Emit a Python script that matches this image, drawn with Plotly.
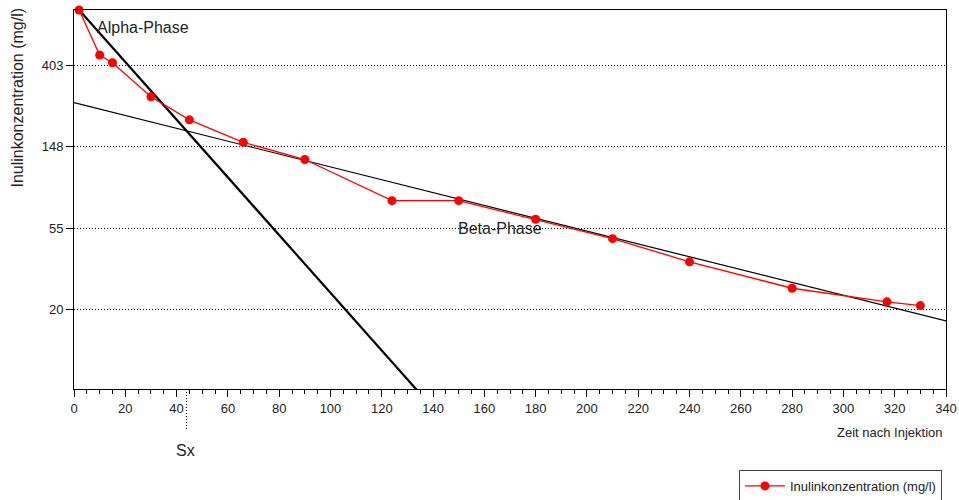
import numpy as np
import plotly.graph_objects as go

# Data (minutes after injection, inulin concentration mg/l)
zeit = [2, 10, 15, 30, 45, 66, 90, 124, 150, 180, 210, 240, 280, 317, 330]
konz = [801, 460, 418, 275, 207, 157, 127, 76.5, 76.5, 60.8, 47.9, 36.0, 26.0, 22.0, 21.0]

# Fitted phases (ln-linear): C(t) = A * exp(-k t)
alpha_lnA, alpha_k = 6.757, 0.03555
beta_lnA, beta_k = 5.544, 0.007909
alpha_t = [2, 160]
beta_t = [0, 340]

ytick_vals = [np.e**3, np.e**4, np.e**5, np.e**6]
ytick_text = ["20", "55", "148", "403"]

sx = (alpha_lnA - beta_lnA) / (alpha_k - beta_k)
sx_y = np.exp(beta_lnA - beta_k * sx)

FONT = "Liberation Sans, Arial, sans-serif"
ymin_log = np.log10(np.e**2.017)

fig = go.Figure()
at = np.array(alpha_t, dtype=float)
fig.add_trace(go.Scatter(x=at, y=np.exp(alpha_lnA - alpha_k * at), mode="lines",
                         line=dict(color="black", width=2.2), showlegend=False, hoverinfo="skip"))
bt = np.array(beta_t, dtype=float)
fig.add_trace(go.Scatter(x=bt, y=np.exp(beta_lnA - beta_k * bt), mode="lines",
                         line=dict(color="black", width=1.2), showlegend=False, hoverinfo="skip"))
fig.add_trace(go.Scatter(x=zeit, y=konz, mode="lines+markers", name="Inulinkonzentration (mg/l)",
                         line=dict(color="#ff0000", width=1.3),
                         marker=dict(color="#ff0000", size=9), cliponaxis=False))

# dotted Sx line
fig.add_shape(type="line", xref="x", yref="y", x0=sx, x1=sx,
              y0=np.log10(sx_y), y1=ymin_log,
              line=dict(color="black", width=1, dash="1px,2px"))
fig.add_shape(type="line", xref="x", yref="paper", x0=sx, x1=sx, y0=0, y1=-0.108,
              line=dict(color="black", width=1, dash="1px,2px"))

fig.add_annotation(text="Alpha-Phase", x=8.0, y=0.955, xref="x", yref="paper",
                   xanchor="left", yanchor="middle", showarrow=False,
                   font=dict(family=FONT, size=16, color="#222"))
fig.add_annotation(text="Beta-Phase", x=166, y=np.log10(np.e**4), xref="x", yref="y",
                   xanchor="center", yanchor="middle", showarrow=False,
                   font=dict(family=FONT, size=16, color="#222"))
fig.add_annotation(text="Sx", x=0.1284, y=-0.161, xref="paper", yref="paper",
                   xanchor="center", yanchor="middle", showarrow=False,
                   font=dict(family=FONT, size=16, color="#222"))
fig.add_annotation(text="Zeit nach Injektion", x=0.9989, y=-0.1153, xref="paper", yref="paper",
                   xanchor="right", yanchor="middle", showarrow=False,
                   font=dict(family=FONT, size=13, color="#222"))
fig.add_annotation(text="Inulinkonzentration (mg/l)", x=-0.0642, y=0.769, xref="paper", yref="paper",
                   xanchor="center", yanchor="middle", showarrow=False, textangle=-90,
                   font=dict(family=FONT, size=16, color="#222"))

fig.update_layout(
    width=959, height=500,
    margin=dict(l=74, r=13, t=10, b=111, autoexpand=False),
    plot_bgcolor="white", paper_bgcolor="white",
    font=dict(family=FONT, size=13, color="#222"),
    legend=dict(x=0.9954, xanchor="right", y=-0.2137, yanchor="top", itemwidth=40,
                bordercolor="#444", borderwidth=1, bgcolor="white",
                font=dict(family=FONT, size=13, color="#222")),
)
fig.update_xaxes(range=[0, 340], tick0=0, dtick=20, ticks="outside", ticklen=7,
                 tickcolor="black", linecolor="black", linewidth=1, mirror=True,
                 showgrid=False, zeroline=False,
                 minor=dict(dtick=5, ticks="outside", ticklen=4, tickcolor="black", showgrid=False),
                 tickfont=dict(family=FONT, size=13, color="#222"))
fig.update_yaxes(type="log", range=[ymin_log, np.log10(801)],
                 tickvals=ytick_vals, ticktext=ytick_text, ticks="outside", ticklen=7,
                 tickcolor="black", linecolor="black", linewidth=1, mirror=True,
                 showgrid=True, gridcolor="black", griddash="1px,2px", gridwidth=1,
                 zeroline=False, tickfont=dict(family=FONT, size=13, color="#222"))

fig.write_html("out.html")
